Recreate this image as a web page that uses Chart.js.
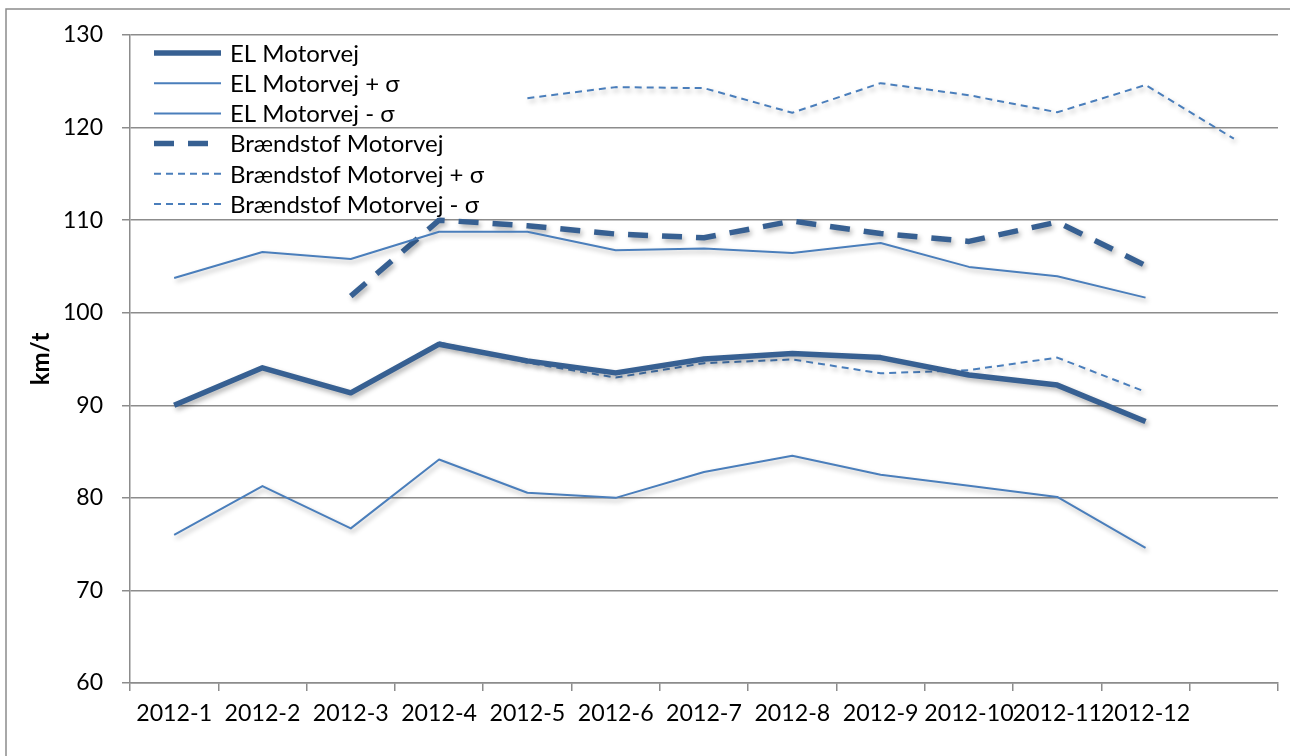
<!DOCTYPE html>
<html>
<head>
<meta charset="utf-8">
<script src="https://cdn.jsdelivr.net/npm/chart.js@4.4.1/dist/chart.umd.min.js"></script>
<style>
  html, body { margin: 0; padding: 0; background: #ffffff; }
  #wrap { width: 1290px; height: 756px; position: relative; }
</style>
</head>
<body>
<div id="wrap"><canvas id="c" width="1290" height="756"></canvas></div>
<script>
// ---- data ----
const categories = ['2012-1','2012-2','2012-3','2012-4','2012-5','2012-6','2012-7','2012-8','2012-9','2012-10','2012-11','2012-12',''];
const elMotorvej      = [90.0, 94.05, 91.35, 96.6, 94.8, 93.5, 95.0, 95.6, 95.15, 93.27, 92.18, 88.25, null];
const elMotorvejPlus  = [103.75, 106.55, 105.8, 108.75, 108.74, 106.75, 106.93, 106.46, 107.54, 104.95, 103.94, 101.63, null];
const elMotorvejMinus = [76.0, 81.27, 76.7, 84.15, 80.55, 80.0, 82.8, 84.55, 82.5, 81.3, 80.1, 74.6, null];
const braendMotorvej      = [null, null, 101.8, 110.0, 109.4, 108.5, 108.1, 109.9, 108.55, 107.7, 109.8, 105.1, null];
const braendMotorvejPlus  = [null, null, null, null, 123.18, 124.37, 124.26, 121.6, 124.8, 123.5, 121.65, 124.6, 118.8];
const braendMotorvejMinus = [null, null, null, 96.8, 94.6, 93.0, 94.55, 94.95, 93.45, 93.8, 95.15, 91.45, null];
const seriesNames = ['EL Motorvej','EL Motorvej + σ','EL Motorvej - σ','Brændstof Motorvej','Brændstof Motorvej + σ','Brændstof Motorvej - σ'];
const yMin = 60, yMax = 130, yStep = 10;
const yTitle = 'km/t';

// ---- styles ----
const darkBlue = '#376092';
const lightBlue = '#4a7ebb';
const gridColor = '#8c8c8c';
const FONT = 'Lato';

function ds(label, data, color, width, dash) {
  return {
    label, data,
    borderColor: color, backgroundColor: color,
    borderWidth: width, borderDash: dash,
    borderCapStyle: 'butt', borderJoinStyle: 'round',
    pointRadius: 0, pointHoverRadius: 0,
    tension: 0, spanGaps: false, fill: false
  };
}

const datasets = [
  ds(seriesNames[0], elMotorvej, darkBlue, 5.5, []),
  ds(seriesNames[1], elMotorvejPlus, lightBlue, 2, []),
  ds(seriesNames[2], elMotorvejMinus, lightBlue, 2, []),
  ds(seriesNames[3], braendMotorvej, darkBlue, 5.5, [20, 14]),
  ds(seriesNames[4], braendMotorvejPlus, lightBlue, 2, [7, 5]),
  ds(seriesNames[5], braendMotorvejMinus, lightBlue, 2, [7, 5])
];

const framePlugin = {
  id: 'frame',
  beforeDraw(chart) {
    const ctx = chart.ctx;
    ctx.save();
    ctx.strokeStyle = '#8c8c8c';
    ctx.lineWidth = 1.5;
    ctx.strokeRect(6, 9, 1300, 770);
    ctx.restore();
  }
};

const shadowPlugin = {
  id: 'shadow',
  beforeDatasetsDraw(chart) {
    const ctx = chart.ctx;
    ctx.save();
    ctx.shadowColor = 'rgba(0,0,0,0.3)';
    ctx.shadowBlur = 5;
    ctx.shadowOffsetX = 2;
    ctx.shadowOffsetY = 3;
  },
  afterDatasetsDraw(chart) {
    chart.ctx.restore();
  }
};

const legendPlugin = {
  id: 'insideLegend',
  afterDraw(chart) {
    const ctx = chart.ctx;
    const area = chart.chartArea;
    const x0 = area.left + 24, x1 = x0 + 67, tx = x1 + 9;
    const y0 = area.top + 18, dy = 30.2;
    ctx.save();
    chart.data.datasets.forEach((d, i) => {
      const y = y0 + i * dy;
      ctx.beginPath();
      ctx.strokeStyle = d.borderColor;
      ctx.lineWidth = d.borderWidth;
      ctx.setLineDash(d.borderDash || []);
      ctx.lineCap = 'butt';
      ctx.moveTo(x0, y);
      ctx.lineTo(x1, y);
      ctx.stroke();
      ctx.setLineDash([]);
      ctx.fillStyle = '#000000';
      ctx.font = '24px ' + FONT;
      ctx.textBaseline = 'middle';
      ctx.textAlign = 'left';
      ctx.fillText(d.label, tx, y + 1);
    });
    ctx.restore();
  }
};

new Chart(document.getElementById('c'), {
  type: 'line',
  data: { labels: categories, datasets },
  plugins: [framePlugin, shadowPlugin, legendPlugin],
  options: {
    responsive: false,
    devicePixelRatio: 1,
    animation: false,
    layout: { padding: { left: 6, top: 35, right: 12, bottom: 0 } },
    plugins: { legend: { display: false }, tooltip: { enabled: false } },
    scales: {
      x: {
        type: 'category',
        offset: true,
        afterFit(scale) { scale.height = 73; },
        grid: { offset: true, drawOnChartArea: false, drawTicks: true, tickLength: 8, color: gridColor, lineWidth: 1.5 },
        border: { display: true, color: gridColor, width: 1.5 },
        ticks: { autoSkip: false, maxRotation: 0, minRotation: 0, color: '#000', padding: 9, font: { family: FONT, size: 23.2 } }
      },
      y: {
        min: yMin, max: yMax,
        afterFit(scale) { scale.width = 124; },
        grid: { drawTicks: true, tickLength: 8, color: gridColor, lineWidth: 1.5 },
        border: { display: true, color: gridColor, width: 1.5 },
        ticks: { stepSize: yStep, color: '#000', padding: 19, font: { family: FONT, size: 23 } },
        title: { display: true, text: yTitle, color: '#000', font: { family: FONT, size: 24, weight: 'bold' }, padding: { top: 21, bottom: 0 } }
      }
    }
  }
});
</script>
</body>
</html>
